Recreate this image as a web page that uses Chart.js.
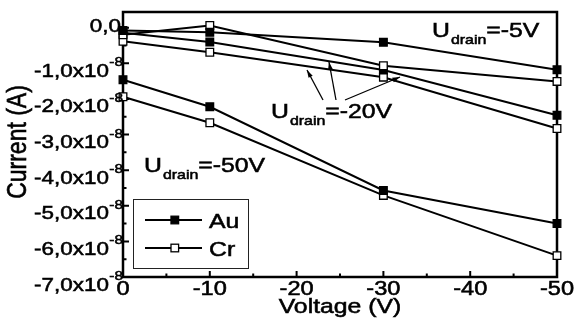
<!DOCTYPE html>
<html>
<head>
<meta charset="utf-8">
<script src="https://cdn.jsdelivr.net/npm/chart.js@4.4.1/dist/chart.umd.min.js"></script>
<style>
html,body{margin:0;padding:0;background:#fff;}
canvas{display:block;}
</style>
</head>
<body>
<canvas id="c" width="575" height="325"></canvas>
<script>
// Gate voltage (V)
const voltages = [0, -10, -30, -50];
// Current values in units of 1e-8 A
const auDrain5  = [-0.08, -0.13, -0.41, -1.18];
const crDrain5  = [-0.20,  0.06, -1.07, -1.51];
const auDrain20 = [-0.14, -0.40, -1.19, -2.46];
const crDrain20 = [-0.38, -0.69, -1.39, -2.83];
const auDrain50 = [-1.46, -2.22, -4.57, -5.50];
const crDrain50 = [-1.94, -2.67, -4.71, -6.40];

const xTickValues = [0, -10, -20, -30, -40, -50];
const xTickLabels = ['0', '-10', '-20', '-30', '-40', '-50'];
const yTickValues = [0, -1, -2, -3, -4, -5, -6, -7];
const yTickMain   = ['0,0', '-1,0x10', '-2,0x10', '-3,0x10', '-4,0x10', '-5,0x10', '-6,0x10', '-7,0x10'];
const yTickSup    = ['', '-8', '-8', '-8', '-8', '-8', '-8', '-8'];
const legendLabels = ['Au', 'Cr'];
const xTitle = 'Voltage (V)';
const yTitle = 'Current (A)';

const FONT = '"Liberation Sans", Arial, sans-serif';
const SX = 1.18;
const TSTROKE = 0.55;

function pts(vals){ return voltages.map((v,i)=>({x:v, y:vals[i]})); }
function ds(label, vals, filled){
  return {
    label: label, data: pts(vals),
    borderColor:'#000', borderWidth:2, tension:0,
    pointStyle:'rect', pointRadius:5.4, pointHoverRadius:5.4,
    pointBorderWidth:1.3, pointBorderColor:'#000',
    pointBackgroundColor: filled ? '#000' : '#fff',
    clip:false
  };
}

function txt(ctx, s, x, y, size, align, base){
  ctx.save();
  ctx.translate(x, y);
  ctx.scale(SX, 1);
  ctx.font = size + 'px ' + FONT;
  ctx.fillStyle = '#000';
  ctx.strokeStyle = '#000';
  ctx.lineWidth = TSTROKE;
  ctx.textAlign = align || 'left';
  ctx.textBaseline = base || 'alphabetic';
  ctx.fillText(s, 0, 0);
  ctx.strokeText(s, 0, 0);
  ctx.restore();
}
function tw(ctx, s, size){
  ctx.save(); ctx.font = size + 'px ' + FONT;
  const w = ctx.measureText(s).width * SX; ctx.restore(); return w;
}
function udrain(ctx, x, y, rest){
  txt(ctx, 'U', x, y, 21);
  let x2 = x + tw(ctx, 'U', 21) + 1;
  txt(ctx, 'drain', x2, y + 7, 13.5);
  x2 += tw(ctx, 'drain', 13.5);
  txt(ctx, rest, x2, y, 21);
}
function arrow(ctx, x1, y1, x2, y2){
  ctx.save();
  ctx.strokeStyle = '#000'; ctx.fillStyle = '#000'; ctx.lineWidth = 1.3;
  ctx.beginPath(); ctx.moveTo(x1, y1); ctx.lineTo(x2, y2); ctx.stroke();
  const a = Math.atan2(y2 - y1, x2 - x1), L = 8, W = 0.3;
  ctx.beginPath();
  ctx.moveTo(x2, y2);
  ctx.lineTo(x2 - L*Math.cos(a - W), y2 - L*Math.sin(a - W));
  ctx.lineTo(x2 - L*Math.cos(a + W), y2 - L*Math.sin(a + W));
  ctx.closePath(); ctx.fill();
  ctx.restore();
}

const decor = {
  id: 'decor',
  beforeDatasetsDraw(chart){
    const ctx = chart.ctx, a = chart.chartArea;
    const xs = chart.scales.x, ys = chart.scales.y;
    ctx.save();
    ctx.strokeStyle = '#000';
    ctx.lineWidth = 2.5;
    ctx.strokeRect(a.left, a.top, a.right - a.left, a.bottom - a.top);
    ctx.lineWidth = 2;
    ctx.beginPath();
    yTickValues.forEach(v => {
      const p = ys.getPixelForValue(v);
      ctx.moveTo(a.left, p); ctx.lineTo(a.left + 6, p);
      if (v > -7) { const m = ys.getPixelForValue(v - 0.5); ctx.moveTo(a.left, m); ctx.lineTo(a.left + 3.5, m); }
    });
    xTickValues.forEach(v => {
      const p = xs.getPixelForValue(v);
      ctx.moveTo(p, a.bottom); ctx.lineTo(p, a.bottom - 6);
      if (v > -50) { const m = xs.getPixelForValue(v - 5); ctx.moveTo(m, a.bottom); ctx.lineTo(m, a.bottom - 3.5); }
    });
    ctx.stroke();
    ctx.restore();
  },
  afterDatasetsDraw(chart){
    const ctx = chart.ctx, a = chart.chartArea;
    const xs = chart.scales.x, ys = chart.scales.y;
    // y tick labels
    yTickValues.forEach((v, i) => {
      const p = ys.getPixelForValue(v);
      if (yTickSup[i]) {
        const sw = tw(ctx, yTickSup[i], 13);
        txt(ctx, yTickSup[i], a.left - sw, p + 3, 13);
        txt(ctx, yTickMain[i], a.left - sw - 0.5, p + 13.5, 19, 'right');
      } else {
        txt(ctx, yTickMain[i], a.left - 2, p + 4, 19, 'right');
      }
    });
    // x tick labels
    xTickValues.forEach((v, i) => {
      txt(ctx, xTickLabels[i], xs.getPixelForValue(v), a.bottom + 18, 20, 'center');
    });
    // axis titles
    txt(ctx, xTitle, (a.left + a.right) / 2, 313, 21, 'center');
    ctx.save();
    ctx.translate(26, 142);
    ctx.rotate(-Math.PI / 2);
    ctx.scale(1, SX);
    ctx.font = '23px ' + FONT; ctx.fillStyle = '#000'; ctx.strokeStyle = '#000'; ctx.lineWidth = TSTROKE;
    ctx.textAlign = 'center'; ctx.textBaseline = 'alphabetic';
    ctx.fillText(yTitle, 0, 0);
    ctx.strokeText(yTitle, 0, 0);
    ctx.restore();
    // annotations
    udrain(ctx, 432, 37, '=-5V');
    udrain(ctx, 271, 118, '=-20V');
    udrain(ctx, 144, 172, '=-50V');
    arrow(ctx, 323, 100, 307, 70);
    arrow(ctx, 336, 100, 329, 62);
    arrow(ctx, 345, 100, 400, 77);
    // legend
    ctx.save();
    ctx.strokeStyle = '#222'; ctx.lineWidth = 1;
    ctx.strokeRect(133.5, 199.5, 115, 69);
    ctx.restore();
    const rows = [220, 248];
    legendLabels.forEach((lab, i) => {
      const y = rows[i];
      ctx.save();
      ctx.strokeStyle = '#000'; ctx.lineWidth = 2;
      ctx.beginPath(); ctx.moveTo(145, y); ctx.lineTo(202, y); ctx.stroke();
      ctx.fillStyle = i === 0 ? '#000' : '#fff';
      ctx.lineWidth = 1.3;
      ctx.fillRect(171, y - 3.8, 7.6, 7.6);
      ctx.strokeRect(171, y - 3.8, 7.6, 7.6);
      ctx.restore();
      txt(ctx, lab, 209, y + 7.5, 21);
    });
  }
};

new Chart(document.getElementById('c'), {
  type: 'line',
  data: {
    datasets: [
      ds('Au, Udrain=-5V', auDrain5, true),
      ds('Cr, Udrain=-5V', crDrain5, false),
      ds('Au, Udrain=-20V', auDrain20, true),
      ds('Cr, Udrain=-20V', crDrain20, false),
      ds('Au, Udrain=-50V', auDrain50, true),
      ds('Cr, Udrain=-50V', crDrain50, false)
    ]
  },
  options: {
    responsive: false,
    animation: false,
    events: [],
    layout: { autoPadding: false, padding: { left: 0, right: 18, top: 12, bottom: 0 } },
    plugins: { legend: { display: false }, tooltip: { enabled: false } },
    scales: {
      x: {
        type: 'linear', min: -50, max: 0, reverse: true,
        grid: { display: false, drawTicks: false }, border: { display: false },
        ticks: { display: false },
        afterFit: s => { s.height = 48; }
      },
      y: {
        type: 'linear', min: -7, max: 0.44,
        grid: { display: false, drawTicks: false }, border: { display: false },
        ticks: { display: false },
        afterFit: s => { s.width = 123; }
      }
    }
  },
  plugins: [decor]
});
</script>
</body>
</html>
